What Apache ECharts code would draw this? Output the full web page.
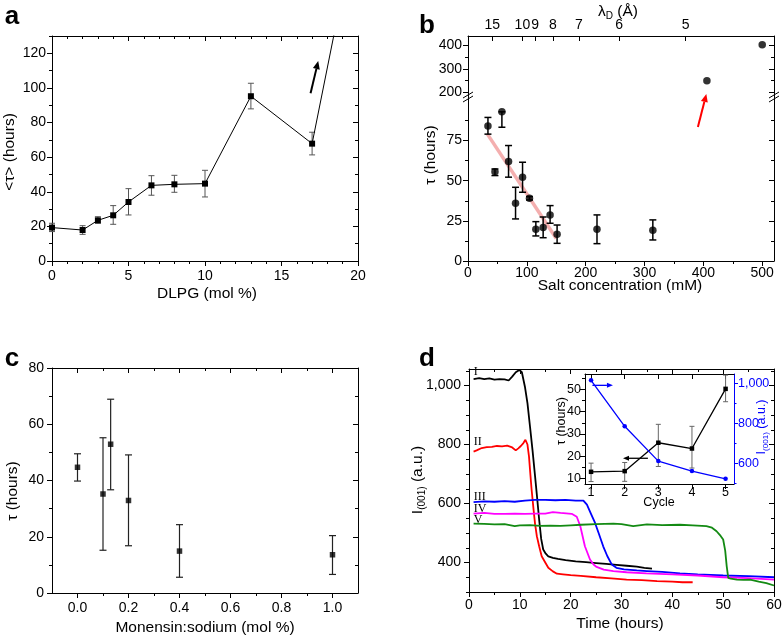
<!DOCTYPE html>
<html><head><meta charset="utf-8">
<script src="https://cdn.jsdelivr.net/npm/echarts@6/dist/echarts.min.js"></script>
<style>html,body{margin:0;padding:0;background:#fff}#c{width:783px;height:640px}</style>
</head><body><div id="c"></div>
<script>
// ---------- Panel a ----------
const aX = [0, 2, 3, 4, 5, 6.5, 8, 10, 13, 17, 20];
const aY = [19.3, 17.9, 23.5, 26.4, 34.1, 43.7, 44.3, 44.7, 95.2, 67.8, 200];
const aErrLow = [17.0, 15.4, 21.8, 21.2, 26.6, 38.0, 39.7, 37.0, 87.9, 61.3, null];
const aErrHigh = [21.8, 20.4, 25.6, 32.0, 41.8, 49.3, 49.5, 52.4, 102.7, 74.4, null];
const aXTicks = [0, 5, 10, 15, 20];
const aYTicks = [0, 20, 40, 60, 80, 100, 120];

// ---------- Panel b ----------
const bX = [33.9, 45.8, 57.6, 68.9, 80.8, 92.7, 104.5, 115.3, 127.7, 139.5, 151.4, 219.2, 314.1];
const bY = [84.1, 55.5, 92.9, 61.9, 35.9, 52.2, 39.1, 19.7, 20.8, 28.7, 16.6, 19.7, 19.1];
const bErrLow = [79.0, 53.2, 83.3, 52.2, 26.2, 42.8, 38.0, 15.6, 14.5, 23.5, 11.0, 10.8, 13.1];
const bErrHigh = [89.4, 57.3, 92.9, 71.9, 45.9, 61.5, 40.1, 24.5, 27.4, 34.5, 22.4, 28.7, 25.6];
const bHighX = [406, 500];
const bHighY = [249, 403];
const bFitX = [33, 150];
const bFitY = [79, 14];
const bXTicks = [0, 100, 200, 300, 400, 500];
const bYLowTicks = [0, 25, 50, 75];
const bYHighTicks = [200, 300, 400];
const lambdaTicks = [15, 10, 9, 8, 7, 6, 5];

// ---------- Panel c ----------
const cX = [0, 0.1, 0.13, 0.2, 0.4, 1.0];
const cY = [44.7, 35.2, 52.9, 32.9, 14.9, 13.6];
const cErrLow = [39.8, 15.2, 36.7, 16.8, 5.6, 6.6];
const cErrHigh = [49.5, 55.2, 68.9, 49.1, 24.3, 20.4];
const cXTicks = [0, 0.2, 0.4, 0.6, 0.8, 1.0];
const cYTicks = [0, 20, 40, 60, 80];

// ---------- Panel d ----------
const dT1 = [0.9, 2, 3, 4, 5, 6, 7, 7.8, 8.5, 9.2, 9.9, 10.4, 11.0, 11.5, 12.0, 12.5, 13.0, 13.4, 13.8, 14.2, 14.6, 15.1, 15.6, 16.5, 17.5, 19, 21, 23, 25, 27, 29, 31, 33, 34.5, 36];
const dI1 = [1022, 1025, 1022, 1024, 1020, 1022, 1021, 1017, 1030, 1045, 1053, 1045, 996, 940, 861, 780, 692, 620, 545, 480, 444, 430, 421, 416, 412, 408, 404, 401, 398, 395, 392, 389, 386, 382, 379];
const dT2 = [0.9, 1.5, 2.5, 3.5, 4.5, 5.5, 6.5, 7.5, 8.5, 9.2, 9.7, 10.2, 10.7, 11.1, 11.5, 11.8, 12.0, 12.3, 12.7, 13.0, 13.35, 13.8, 14.3, 15.0, 15.6, 16.5, 17.3, 18.5, 20, 22, 25, 28, 31, 34, 37, 40, 42, 44];
const dI2 = [776, 780, 788, 791, 792, 795, 794, 796, 790, 780, 787, 795, 805, 816, 800, 760, 715, 650, 579, 530, 489, 455, 421, 400, 382, 370, 362, 360, 357, 355, 350, 346, 342, 340, 337, 335, 333, 333];
const dT3 = [0.9, 3, 5, 7, 9, 11, 13, 15, 17, 19, 21, 22.5, 23.2, 24, 24.8, 25.6, 26.4, 27.2, 28.1, 29, 30.5, 33, 35, 38, 41.5, 45, 50, 55, 60];
const dI3 = [605, 607, 606, 608, 606, 610, 612, 612, 611, 612, 610, 610, 596, 565, 534, 495, 455, 422, 393, 382, 377, 373, 371, 368, 363, 360, 356, 354, 350];
const dT4 = [0.9, 3, 5, 7, 9, 11, 13, 15, 16.5, 18, 20.2, 21.2, 21.9, 22.8, 23.8, 24.5, 25.1, 26.5, 28.4, 31, 34.9, 40, 45, 50, 55, 60];
const dI4 = [566, 568, 565, 565, 566, 565, 566, 566, 571, 568, 565, 555, 523, 455, 410, 393, 385, 376, 371, 367, 363, 360, 356, 350, 347, 342];
const dT5 = [0.9, 3, 5, 7, 9, 10, 12, 14, 16, 18, 20, 22, 25, 28.4, 30, 32.3, 35, 38, 41.5, 44, 46.7, 47.8, 48.7, 49.5, 50.0, 50.4, 50.7, 51.0, 51.5, 52.7, 54, 55.3, 57, 58.5, 60];
const dI5 = [532, 531, 529, 530, 523, 526, 527, 524, 525, 524, 526, 528, 530, 532, 530, 523, 529, 527, 528, 526, 523, 518, 506, 490, 478, 440, 387, 348, 345, 342, 341, 342, 335, 330, 322];
const dNames = ['I', 'II', 'III', 'IV', 'V'];
const dLabelY = [1045, 809, 623, 583, 545];
const dXTicks = [0, 10, 20, 30, 40, 50, 60];
const dYTicks = [400, 600, 800, 1000];

// inset
const cycles = [1, 2, 3, 4, 5];
const insetTau = [12.9, 13.2, 26.0, 23.4, 50.3];
const insetTauLow = [8.5, 8.6, 15.3, 14.6, 44.5];
const insetTauHigh = [16.8, 17.1, 34.3, 33.4, 56.5];
const insetI = [1017, 786, 611, 561, 522];
const insetTauTicks = [10, 20, 30, 40, 50];
const insetITicks = [600, 800, 1000];

// ---------- helpers ----------
const FONT = '"Liberation Sans", Arial, Helvetica, sans-serif';
const zip = (xs, ys) => xs.map((x, i) => [x, ys[i]]);
const range = (a, b, s) => { const r = []; for (let v = a; v <= b + 1e-9; v += s) r.push(+v.toFixed(6)); return r; };
const minus = (arr, ex) => arr.filter(v => !ex.some(e => Math.abs(e - v) < 1e-9));
const comma = v => Math.round(v).toLocaleString('en-US');

const grids = [], xAxes = [], yAxes = [];
const OPP = { bottom: 'top', top: 'bottom', left: 'right', right: 'left' };

function mkAxis(gi, pos, c, o) {
  const color = c.color || '#000';
  const hasTicks = o.ticks && o.ticks.length > 0;
  return {
    gridIndex: gi, type: 'value', position: pos, min: c.min, max: c.max,
    axisLine: { show: !!o.line, onZero: false, lineStyle: { color: color, width: 1 } },
    axisTick: { show: hasTicks, inside: !!o.inside, length: o.len, customValues: hasTicks ? o.ticks : undefined, lineStyle: { color: color, width: 1 } },
    axisLabel: o.labels ? { show: true, customValues: c.labels, formatter: c.fmt, margin: c.margin, fontSize: c.fontSize || 14, color: color, fontFamily: FONT } : { show: false },
    splitLine: { show: false }, minorTick: { show: false }, minorSplitLine: { show: false }
  };
}

// c: {min,max,major,minor,labels,fmt,margin,pos,inside,mirror,mirrorLine,line}
function panel(rect, xc, yc) {
  const g0 = grids.length;
  const gr = { left: rect.left, top: rect.top, width: rect.width, height: rect.height, containLabel: false, outerBoundsMode: 'none' };
  grids.push(Object.assign({}, gr), Object.assign({}, gr));
  const res = { grid: g0 };
  [['x', xc, xAxes, 'bottom'], ['y', yc, yAxes, 'left']].forEach(([k, c, arr, defPos]) => {
    const pos = c.pos || defPos;
    res[k] = arr.length;
    arr.push(mkAxis(g0, pos, c, { labels: true, ticks: c.major, len: 5, inside: c.inside, line: c.line !== false }));
    if (c.mirror !== false) arr.push(mkAxis(g0, OPP[pos], c, { labels: false, ticks: c.mirrorTicks === false ? [] : c.major, len: 5, inside: true, line: c.mirrorLine !== false }));
    arr.push(mkAxis(g0 + 1, pos, c, { labels: false, ticks: c.minor || [], len: 3, inside: c.inside, line: false }));
    if (c.mirror !== false) arr.push(mkAxis(g0 + 1, OPP[pos], c, { labels: false, ticks: c.mirrorTicks === false ? [] : (c.minor || []), len: 3, inside: true, line: false }));
  });
  return res;
}

// ---------- panels ----------
const PA = panel({ left: 52, top: 36, width: 306, height: 225 },
  { min: 0, max: 20, major: aXTicks, minor: minus(range(0, 20, 1), aXTicks), labels: aXTicks, margin: 8 },
  { min: 0, max: 130, major: aYTicks, minor: minus(range(0, 130, 10), aYTicks), labels: aYTicks, margin: 6 });

const lamPos = lambdaTicks.map(l => Math.pow(3.04 / l, 2) * 1000); // Debye length -> mM
const PBL = panel({ left: 468, top: 98, width: 306, height: 163 },
  { min: 0, max: 520, major: bXTicks, minor: range(50, 450, 100), labels: bXTicks, margin: 5, mirror: false },
  { min: 0, max: 101.5, major: bYLowTicks, minor: [12.5, 37.5, 62.5, 87.5], labels: bYLowTicks, margin: 6 });
const PBU = panel({ left: 468, top: 36, width: 306, height: 62 },
  { min: 0, max: 520, major: lamPos, minor: [], labels: lamPos, pos: 'top', inside: true, margin: 4, mirror: false,
    fmt: v => { let best = 0; lamPos.forEach((p, i) => { if (Math.abs(p - v) < Math.abs(lamPos[best] - v)) best = i; }); return String(lambdaTicks[best]); } },
  { min: 175, max: 440, major: bYHighTicks, minor: [250, 350], labels: bYHighTicks, margin: 6 });

const PC = panel({ left: 52, top: 368, width: 306, height: 225 },
  { min: -0.1, max: 1.1, major: cXTicks, minor: [0.1, 0.3, 0.5, 0.7, 0.9], labels: cXTicks, margin: 8, fmt: v => v.toFixed(1) },
  { min: 0, max: 80, major: cYTicks, minor: [10, 30, 50, 70], labels: cYTicks, margin: 8 });

const PD = panel({ left: 469, top: 369, width: 305, height: 223 },
  { min: 0, max: 60, major: dXTicks, minor: range(5, 55, 10), labels: dXTicks, margin: 6 },
  { min: 300, max: 1056, major: dYTicks, minor: minus(range(300, 1050, 50), dYTicks), labels: dYTicks, margin: 8, fmt: comma });

const PI = panel({ left: 585, top: 374, width: 149, height: 110 },
  { min: 0.82, max: 5.25, major: cycles, minor: [], labels: cycles, margin: 2, fontSize: 12.5 },
  { min: 7.4, max: 57, major: insetTauTicks, minor: [15, 25, 35, 45, 55], labels: insetTauTicks, margin: 4, fontSize: 12.5, mirror: false });
// blue right axis of inset
const blueCfg = { min: 496, max: 1049, labels: insetITicks, margin: 4, fontSize: 12.5, fmt: comma, color: '#0000ff' };
const PIB = yAxes.length;
yAxes.push(mkAxis(PI.grid, 'right', blueCfg, { labels: true, ticks: insetITicks, len: 4, inside: false, line: true }));
yAxes.push(mkAxis(PI.grid + 1, 'right', blueCfg, { labels: false, ticks: [500, 700, 900], len: 2.5, inside: false, line: false }));

// ---------- series ----------
function errSeries(xi, yi, xs, lo, hi, cap, color, width) {
  const data = [];
  xs.forEach((x, i) => { if (lo[i] != null) data.push([x, lo[i], hi[i]]); });
  return {
    type: 'custom', xAxisIndex: xi, yAxisIndex: yi, data: data, z: 3, silent: true,
    encode: { x: 0, y: [1, 2] },
    renderItem: (params, api) => {
      const x = api.value(0);
      const p1 = api.coord([x, api.value(2)]), p2 = api.coord([x, api.value(1)]);
      const st = { stroke: color, lineWidth: width };
      return { type: 'group', children: [
        { type: 'line', shape: { x1: p1[0], y1: p1[1], x2: p2[0], y2: p2[1] }, style: st },
        { type: 'line', shape: { x1: p1[0] - cap, y1: p1[1], x2: p1[0] + cap, y2: p1[1] }, style: st },
        { type: 'line', shape: { x1: p2[0] - cap, y1: p2[1], x2: p2[0] + cap, y2: p2[1] }, style: st }
      ] };
    }
  };
}
function scatter(xi, yi, xs, ys, sym, size, color) {
  return { type: 'scatter', xAxisIndex: xi, yAxisIndex: yi, data: zip(xs, ys), symbol: sym, symbolSize: size,
    itemStyle: { color: color }, z: 5, silent: true };
}
function line(xi, yi, xs, ys, color, width, sym, size) {
  return { type: 'line', xAxisIndex: xi, yAxisIndex: yi, data: zip(xs, ys), symbol: sym || 'none', symbolSize: size || 0,
    showSymbol: !!sym, lineStyle: { color: color, width: width }, itemStyle: { color: color }, z: 4, clip: true, silent: true };
}

const dColors = ['#000000', '#ff0000', '#0000ff', '#ff00ff', '#138a13'];
const dTs = [dT1, dT2, dT3, dT4, dT5], dIs = [dI1, dI2, dI3, dI4, dI5];

const series = [
  errSeries(PA.x, PA.y, aX, aErrLow, aErrHigh, 3, '#555', 1),
  line(PA.x, PA.y, aX, aY, '#000', 1, 'rect', 6),
  errSeries(PBL.x, PBL.y, bX, bErrLow, bErrHigh, 3.5, '#000', 1.5),
  { type: 'line', xAxisIndex: PBL.x, yAxisIndex: PBL.y, data: zip(bFitX, bFitY), symbol: 'none', lineStyle: { color: 'rgba(235,110,110,0.55)', width: 3.5 }, z: 2, silent: true },
  scatter(PBL.x, PBL.y, bX, bY, 'circle', 7.5, '#000'),
  scatter(PBU.x, PBU.y, bHighX, bHighY, 'circle', 7.5, '#000'),
  errSeries(PC.x, PC.y, cX, cErrLow, cErrHigh, 3.5, '#222', 1.2),
  scatter(PC.x, PC.y, cX, cY, 'rect', 5.5, '#000'),
];
dTs.forEach((t, i) => series.push(line(PD.x, PD.y, t, dIs[i], dColors[i], 1.8)));
series.push(errSeries(PI.x, PI.y, cycles, insetTauLow, insetTauHigh, 2.5, '#666', 1));
series.push(line(PI.x, PI.y, cycles, insetTau, '#000', 1.3, 'rect', 4.5));
series.push(line(PI.x, PIB, cycles, insetI, '#0000ff', 1.3, 'circle', 4.5));

const chart = echarts.init(document.getElementById('c'), null, { renderer: 'canvas' });
chart.setOption({
  animation: false, backgroundColor: '#fff',
  grid: grids, xAxis: xAxes, yAxis: yAxes, series: series
});

// ---------- annotations (text, arrows, axis breaks) ----------
const px = (xi, yi, p) => chart.convertToPixel({ xAxisIndex: xi, yAxisIndex: yi }, p);
function text(x, y, str, o) {
  o = o || {};
  return { type: 'text', x: x, y: y, rotation: o.rot || 0, z: 100, silent: true,
    style: { text: str, fontSize: o.size || 15.5, fontWeight: o.weight || 'normal', fontFamily: o.family || FONT,
      fill: o.color || '#000', align: o.align || 'center', verticalAlign: 'middle', rich: o.rich } };
}
function arrow(p1, p2, color, w, hl, hw) {
  const dx = p2[0] - p1[0], dy = p2[1] - p1[1], L = Math.hypot(dx, dy), ux = dx / L, uy = dy / L;
  const bx = p2[0] - ux * hl, by = p2[1] - uy * hl;
  return { type: 'group', z: 100, silent: true, children: [
    { type: 'line', shape: { x1: p1[0], y1: p1[1], x2: bx, y2: by }, style: { stroke: color, lineWidth: w } },
    { type: 'polygon', shape: { points: [[p2[0], p2[1]], [bx - uy * hw, by + ux * hw], [bx + uy * hw, by - ux * hw]] }, style: { fill: color } }
  ] };
}
function brk(x, y) {
  return { type: 'group', z: 100, silent: true, children: [
    { type: 'polygon', shape: { points: [[x - 5, y + 4], [x + 5, y - 2], [x + 5, y - 6], [x - 5, y]] }, style: { fill: '#fff' } },
    { type: 'line', shape: { x1: x - 5, y1: y + 4, x2: x + 5, y2: y - 2 }, style: { stroke: '#000', lineWidth: 1 } },
    { type: 'line', shape: { x1: x - 5, y1: y, x2: x + 5, y2: y - 6 }, style: { stroke: '#000', lineWidth: 1 } }
  ] };
}
const subRich = (size) => ({ n: { fontSize: size, fontFamily: FONT }, s: { fontSize: size * 0.65, fontFamily: FONT, padding: [size * 0.55, 0, 0, 0] } });
const subRichBlue = (size) => ({ n: { fontSize: size, fontFamily: FONT, fill: '#0000ff' }, s: { fontSize: size * 0.65, fontFamily: FONT, fill: '#0000ff', padding: [size * 0.55, 0, 0, 0] } });

const G = [];
// panel letters
G.push(text(12, 17, 'a', { size: 26, weight: 'bold' }));
G.push(text(427, 26, 'b', { size: 26, weight: 'bold' }));
G.push(text(12, 359, 'c', { size: 26, weight: 'bold' }));
G.push(text(427, 359, 'd', { size: 26, weight: 'bold' }));
// axis titles
G.push(text(207, 294, 'DLPG (mol %)'));
G.push(text(10, 152, '<τ> (hours)', { rot: Math.PI / 2 }));
G.push(text(620, 286, 'Salt concentration (mM)'));
G.push(text(431, 155, 'τ (hours)', { rot: Math.PI / 2 }));
G.push(text(618, 12, '{n|λ}{s|D}{n| (Å)}', { rich: subRich(15.5) }));
G.push(text(205, 628, 'Monensin:sodium (mol %)'));
G.push(text(13, 491, 'τ (hours)', { rot: Math.PI / 2 }));
G.push(text(620, 624, 'Time (hours)'));
G.push(text(418, 480, '{n|I}{s|(001)}{n| (a.u.)}', { rot: Math.PI / 2, rich: subRich(15.5) }));
G.push(text(659, 503, 'Cycle', { size: 12.5 }));
G.push(text(562, 421, 'τ (hours)', { rot: Math.PI / 2, size: 12.5 }));
G.push(text(762, 427, '{n|I}{s|(001)}{n| (a.u.)}', { rot: Math.PI / 2, rich: subRichBlue(12.5) }));
// curve labels
dNames.forEach((n, i) => { const p = px(PD.x, PD.y, [0.95, dLabelY[i]]); G.push(text(p[0], p[1], n, { size: 12, family: '"Liberation Serif", "Times New Roman", serif', align: 'left' })); });
// arrows
G.push(arrow(px(PA.x, PA.y, [16.9, 96.9]), px(PA.x, PA.y, [17.4, 115.5]), '#000', 2, 8, 3.5));
G.push(arrow(px(PBL.x, PBL.y, [390.7, 83.4]), px(PBL.x, PBL.y, [405, 104]), '#ff0000', 2, 8, 3.5));
G.push(arrow(px(PI.x, PIB, [1.04, 992]), px(PI.x, PIB, [1.65, 992]), '#0000ff', 1.3, 6, 2.5));
G.push(arrow(px(PI.x, PI.y, [2.69, 19]), px(PI.x, PI.y, [1.95, 19]), '#000', 1.3, 6, 2.5));
// axis breaks
G.push(brk(468, 98));
G.push(brk(774, 98));
chart.setOption({ graphic: { elements: G } });
</script>
</body></html>
